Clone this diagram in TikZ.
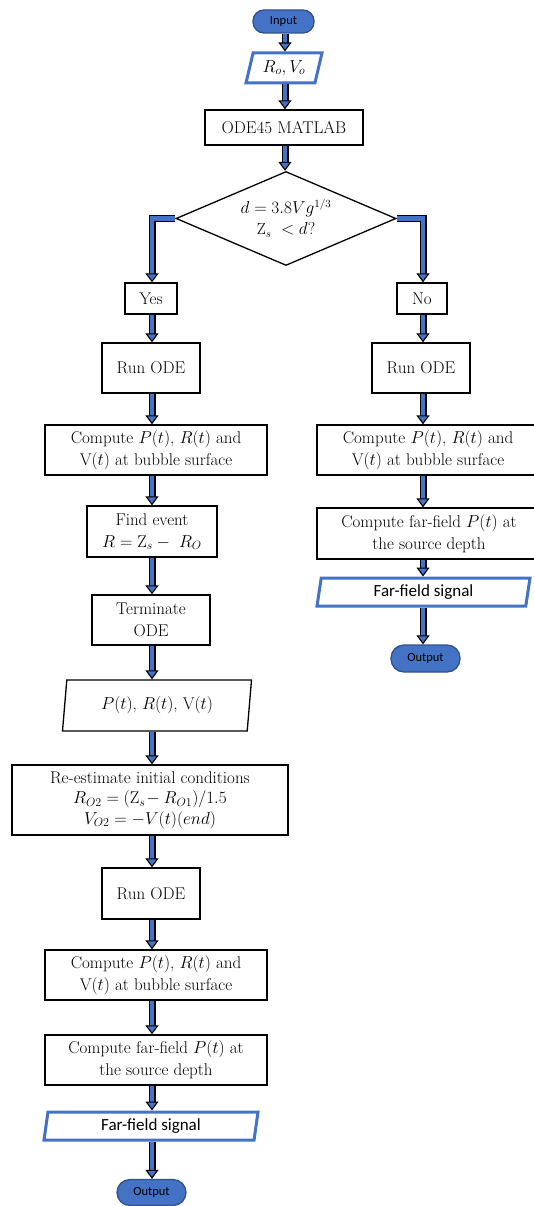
\documentclass[tikz,border=0pt]{standalone}
\usepackage{fontspec}
\newfontfamily\carl{Carlito}
\usetikzlibrary{shapes.geometric,arrows.meta,calc}
\definecolor{myblue}{HTML}{4472C4}
\definecolor{darkblue}{HTML}{2F528F}
\tikzset{
  box/.style={draw=black, line width=1.3pt, fill=white, align=center, inner sep=0pt,
    font=\fontsize{17}{22}\selectfont},
  termbox/.style={draw=darkblue, line width=1.3pt, fill=myblue, inner sep=0pt,
    font=\carl\fontsize{12.5}{14}\selectfont},
  parabox/.style={trapezium, trapezium stretches body, fill=white, inner sep=0pt, align=center},
  bluepara/.style={parabox, draw=myblue, line width=3pt},
  blackpara/.style={parabox, draw=black, line width=1.3pt, font=\fontsize{17}{22}\selectfont},
  sigfont/.style={font=\carl\fontsize{17}{20}\selectfont},
}
\newcommand\barr[1]{%
  \draw[line width=7pt, black, shorten >=8pt] #1;
  \draw[line width=4.2pt, myblue, shorten >=7pt] #1;
  \draw[line width=0.2pt, myblue, -{Triangle[length=9pt,width=13pt,color=black,fill=myblue,line width=1.1pt]}] #1;}
\begin{document}
\begin{tikzpicture}[x=1pt,y=-1pt]
\useasboundingbox (0,0) rectangle (533,1206);
% column coordinates
\coordinate (T) at (285,0);
\coordinate (L) at (152,0);
\coordinate (R) at (423,0);
% top
\node[termbox, rounded corners=11pt, minimum width=61pt, minimum height=23pt] (input) at (283.5,21.5) {Input};
\node[bluepara, font=\fontsize{17}{20}\selectfont, trapezium left angle=65, trapezium right angle=115, minimum width=76pt, minimum height=30pt] (ro) at (284,68) {$R_o, V_o$};
\node[box, minimum width=158pt, minimum height=35pt] (ode) at (284,127.5) {ODE45 MATLAB};
\node[diamond, aspect=2.34, draw=black, line width=1.3pt, fill=white, inner sep=0pt, minimum width=220pt, minimum height=94pt, align=center, font=\fontsize{16}{21}\selectfont] (dia) at (286,218.5) {$d = 3.8Vg^{1/3}$\\$\mathrm{Z}_s\ < d?$};
% left column
\node[box, minimum width=52pt, minimum height=31pt] (yes) at (151,298.5) {Yes};
\node[box, minimum width=98pt, minimum height=50pt] (run1) at (151,368) {Run ODE};
\node[box, minimum width=222pt, minimum height=50pt] (comp1) at (156,450) {Compute $P(t)$, $R(t)$ and\\V$(t)$ at bubble surface};
\node[box, minimum width=130pt, minimum height=51pt] (find) at (152,531.5) {Find event\\$R = \mathrm{Z}_s -\ R_O$};
\node[box, minimum width=118pt, minimum height=50pt] (term) at (151,620) {Terminate\\ODE};
\node[blackpara, trapezium left angle=76, trapezium right angle=104, minimum width=189pt, minimum height=51pt] (pvr) at (157,705.5) {$P(t)$, $R(t)$, V$(t)$};
\node[box, minimum width=276pt, minimum height=70pt, font=\fontsize{17}{19.5}\selectfont] (reest) at (150,800) {Re-estimate initial conditions\\[1pt]$R_{O2} = (\mathrm{Z}_s\!- R_{O1})/1.5$\\[1pt]$V_{O2} = -V(t)(end)$};
\node[box, minimum width=98pt, minimum height=51pt] (run2) at (151,893.5) {Run ODE};
\node[box, minimum width=222pt, minimum height=50pt] (comp2) at (156,975) {Compute $P(t)$, $R(t)$ and\\V$(t)$ at bubble surface};
\node[box, minimum width=222pt, minimum height=50pt] (ff2) at (156,1060) {Compute far-field $P(t)$ at\\the source depth};
\node[bluepara, sigfont, trapezium left angle=75, trapezium right angle=105, minimum width=214pt, minimum height=28pt] (sig2) at (151,1126) {Far-field signal};
\node[termbox, rounded corners=13pt, minimum width=69pt, minimum height=26pt] (out2) at (151.5,1192.5) {Output};
% right column
\node[box, minimum width=50pt, minimum height=31pt] (no) at (422,298.5) {No};
\node[box, minimum width=98pt, minimum height=50pt] (run3) at (421,368) {Run ODE};
\node[box, minimum width=222pt, minimum height=50pt] (comp3) at (428,450) {Compute $P(t)$, $R(t)$ and\\V$(t)$ at bubble surface};
\node[box, minimum width=224pt, minimum height=51pt] (ff3) at (429,533.5) {Compute far-field $P(t)$ at\\the source depth};
\node[bluepara, sigfont, trapezium left angle=74, trapezium right angle=106, minimum width=213pt, minimum height=28pt] (sig3) at (423.5,592) {Far-field signal};
\node[termbox, rounded corners=13pt, minimum width=69pt, minimum height=27pt] (out3) at (425.5,658.5) {Output};
% arrows top
\barr{(T |- input.south) -- (T |- ro.north)}
\barr{(T |- ro.south) -- (T |- ode.north)}
\barr{(T |- ode.south) -- (T |- dia.north)}
\barr{(dia.west) -| (L |- yes.north)}
\barr{(dia.east) -| (R |- no.north)}
% left arrows
\barr{(L |- yes.south) -- (L |- run1.north)}
\barr{(L |- run1.south) -- (L |- comp1.north)}
\barr{(L |- comp1.south) -- (L |- find.north)}
\barr{(L |- find.south) -- (L |- term.north)}
\barr{(L |- term.south) -- (L |- pvr.north)}
\barr{(L |- pvr.south) -- (L |- reest.north)}
\barr{(L |- reest.south) -- (L |- run2.north)}
\barr{(L |- run2.south) -- (L |- comp2.north)}
\barr{(L |- comp2.south) -- (L |- ff2.north)}
\barr{(L |- ff2.south) -- (L |- sig2.north)}
\barr{(L |- sig2.south) -- (L |- out2.north)}
% right arrows
\barr{(R |- no.south) -- (R |- run3.north)}
\barr{(R |- run3.south) -- (R |- comp3.north)}
\barr{(R |- comp3.south) -- (R |- ff3.north)}
\barr{(R |- ff3.south) -- (R |- sig3.north)}
\barr{(R |- sig3.south) -- (R |- out3.north)}
\end{tikzpicture}
\end{document}
